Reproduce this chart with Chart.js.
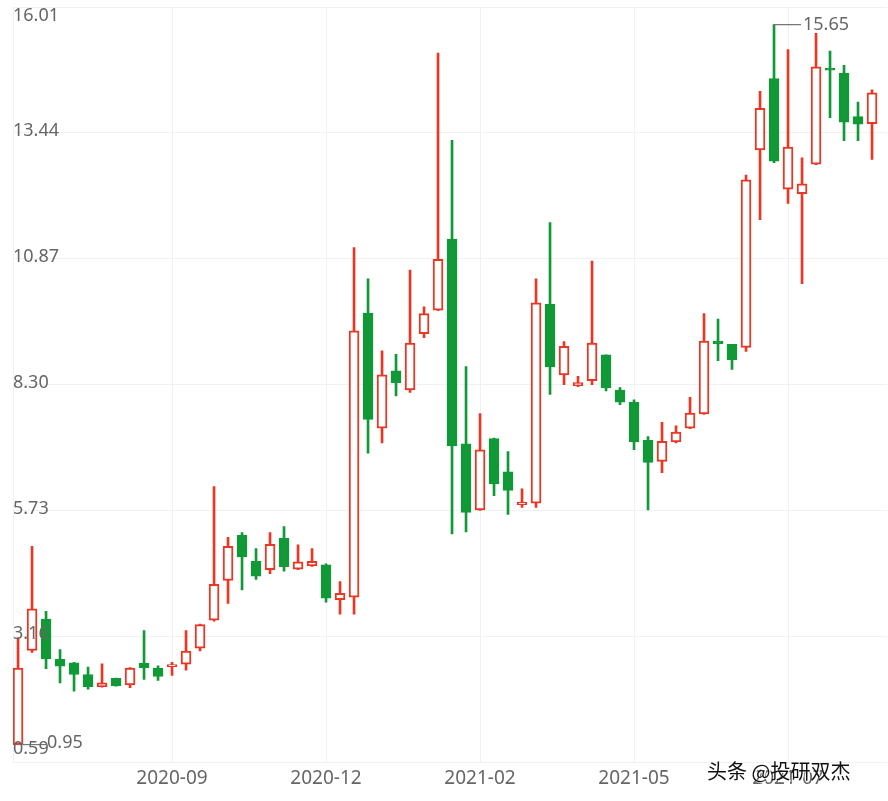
<!DOCTYPE html>
<html lang="zh">
<head>
  <meta charset="UTF-8">
  <title>K线图</title>
  <script src="https://cdn.jsdelivr.net/npm/chart.js"></script>
  <style>
    body { margin: 0; background: #fff; }
    #wrap { width: 888px; height: 801px; }
  </style>
</head>
<body>
  <div id="wrap"><canvas id="kChart" width="888" height="801"></canvas></div>

  <script>
    // weekly candles
    const opens  = [0.95, 2.87, 3.51, 2.69, 2.62, 2.38, 2.13, 2.30, 2.17, 2.61, 2.51, 2.54, 2.59, 2.92, 3.49, 4.30,
                    5.22, 4.69, 4.52, 5.16, 4.53, 4.60, 4.62, 3.91, 3.96, 9.76, 7.41, 8.58, 8.19, 9.34, 9.82, 11.27,
                    7.09, 5.74, 7.20, 6.52, 5.85, 5.88, 9.94, 8.50, 8.28, 8.38, 8.91, 8.19, 7.94, 7.16, 6.73, 7.13,
                    7.41, 7.70, 9.19, 9.12, 9.06, 13.09, 14.55, 12.29, 12.20, 12.80, 14.76, 14.66, 13.77, 13.63];
    const closes = [2.51, 3.72, 2.70, 2.55, 2.38, 2.13, 2.21, 2.15, 2.51, 2.52, 2.34, 2.57, 2.86, 3.40, 4.22, 5.00,
                    4.78, 4.39, 5.04, 4.58, 4.68, 4.69, 3.94, 4.04, 9.40, 7.59, 8.50, 8.34, 9.15, 9.75, 10.86, 7.05,
                    5.69, 6.97, 6.27, 6.14, 5.90, 9.97, 8.66, 9.08, 8.34, 9.15, 8.23, 7.94, 7.13, 6.71, 7.14, 7.33,
                    7.72, 9.19, 9.13, 8.81, 12.48, 13.94, 12.86, 13.15, 12.40, 14.79, 14.72, 13.66, 13.62, 14.26];
    const highs  = [3.13, 5.00, 3.67, 2.89, 2.63, 2.53, 2.60, 2.31, 2.52, 3.28, 2.56, 2.63, 3.28, 3.41, 6.22, 5.18,
                    5.28, 4.95, 5.28, 5.40, 5.03, 4.95, 4.64, 4.28, 11.10, 10.46, 8.99, 8.92, 10.64, 9.89, 15.07, 13.29,
                    8.67, 7.71, 7.21, 6.93, 6.17, 10.46, 11.61, 9.18, 8.47, 10.82, 8.91, 8.24, 7.99, 7.24, 7.53, 7.46,
                    8.04, 9.75, 9.64, 9.12, 12.58, 14.29, 15.65, 15.14, 12.93, 15.47, 15.11, 14.82, 14.07, 14.32];
    const lows   = [0.95, 2.83, 2.50, 2.21, 2.04, 2.08, 2.12, 2.14, 2.11, 2.28, 2.26, 2.36, 2.47, 2.86, 3.47, 3.83,
                    4.11, 4.32, 4.44, 4.49, 4.52, 4.59, 3.86, 3.61, 3.61, 6.90, 7.11, 8.07, 8.14, 9.26, 9.81, 5.25,
                    5.29, 5.73, 6.03, 5.65, 5.79, 5.79, 8.10, 8.30, 8.26, 8.30, 8.17, 7.89, 6.97, 5.74, 6.50, 7.11,
                    7.40, 7.69, 8.79, 8.61, 8.98, 11.67, 12.83, 12.00, 10.36, 12.79, 13.75, 13.28, 13.28, 12.90];

    const xTickIdx    = [11, 22, 33, 44, 55];
    const xTickLabels = ['2020-09', '2020-12', '2021-02', '2021-05', '2021-07'];
    const yTicks      = [0.59, 3.16, 5.73, 8.30, 10.87, 13.44, 16.01];

    const RED = 'rgb(230,56,36)';
    const GREEN = 'rgb(17,152,55)';
    const TXT = '#666';
    const GRID = '#f1f1f1';

    const up = opens.map((o, i) => closes[i] >= o);

    const wickData = highs.map((h, i) => ({ x: i, y: [lows[i], h] }));
    const bodyData = opens.map((o, i) => ({ x: i, y: [Math.min(o, closes[i]), Math.max(o, closes[i])] }));

    // y labels sit inside the plot, top one pushed down, bottom one pushed up
    const yLabelPlugin = {
      id: 'yLabels',
      afterDraw(chart) {
        const { ctx, scales: { y } } = chart;
        ctx.save();
        ctx.font = '18px "Noto Sans", sans-serif';
        ctx.fillStyle = TXT;
        ctx.textAlign = 'left';
        ctx.textBaseline = 'middle';
        yTicks.forEach((v, i) => {
          let py = y.getPixelForValue(v);
          if (i === yTicks.length - 1) py += 9;
          else if (i === 0) py -= 13;
          else py -= 2;
          ctx.fillText(v.toFixed(2), 13, py);
        });
        ctx.restore();
      }
    };

    // max / min markers
    const markPlugin = {
      id: 'marks',
      afterDatasetsDraw(chart) {
        const { ctx, scales: { x, y } } = chart;
        const maxI = highs.indexOf(Math.max(...highs));
        const minI = lows.indexOf(Math.min(...lows));
        ctx.save();
        ctx.strokeStyle = '#777';
        ctx.lineWidth = 1.2;
        ctx.font = '18px "Noto Sans", sans-serif';
        ctx.fillStyle = TXT;
        ctx.textBaseline = 'middle';
        ctx.textAlign = 'left';

        let px = x.getPixelForValue(maxI), py = y.getPixelForValue(highs[maxI]);
        ctx.beginPath();
        ctx.moveTo(px, py + 1);
        ctx.lineTo(px, py);
        ctx.lineTo(px + 27, py);
        ctx.stroke();
        ctx.fillText(highs[maxI].toFixed(2), px + 29, py);

        px = x.getPixelForValue(minI); py = y.getPixelForValue(lows[minI]);
        ctx.beginPath();
        ctx.moveTo(px, py);
        ctx.lineTo(px + 28, py);
        ctx.stroke();
        ctx.fillText(lows[minI].toFixed(2), px + 29, py - 2);
        ctx.restore();
      }
    };

    const watermarkPlugin = {
      id: 'watermark',
      afterDraw(chart) {
        const ctx = chart.ctx;
        ctx.save();
        ctx.font = '20px "Noto Sans CJK SC", sans-serif';
        ctx.textAlign = 'left';
        ctx.textBaseline = 'middle';
        ctx.fillStyle = 'rgba(255,255,255,0.9)';
        ctx.fillText('头条 @投研双杰', 708.5, 772.5);
        ctx.fillStyle = '#111';
        ctx.fillText('头条 @投研双杰', 707, 771);
        ctx.restore();
      }
    };

    new Chart(document.getElementById('kChart'), {
      type: 'bar',
      data: {
        datasets: [
          {
            label: 'body',
            data: bodyData,
            order: 1,
            grouped: false,
            barThickness: 10,
            minBarLength: 2,
            borderWidth: 2,
            borderSkipped: false,
            borderColor: up.map(u => u ? RED : GREEN),
            backgroundColor: up.map(u => u ? '#ffffff' : GREEN)
          },
          {
            label: 'wick',
            data: wickData,
            order: 2,
            grouped: false,
            barThickness: 2,
            borderWidth: 0,
            backgroundColor: up.map(u => u ? RED : GREEN)
          }
        ]
      },
      options: {
        responsive: false,
        animation: false,
        layout: { padding: { left: 13, top: 7, right: 1, bottom: 6 } },
        plugins: { legend: { display: false }, tooltip: { enabled: false } },
        scales: {
          x: {
            type: 'linear',
            offset: false,
            min: -0.36,
            max: 62.07,
            afterBuildTicks: s => { s.ticks = xTickIdx.map(v => ({ value: v })); },
            ticks: {
              color: TXT,
              font: { family: '"Noto Sans", sans-serif', size: 19 },
              padding: 5,
              maxRotation: 0,
              autoSkip: false,
              callback: v => xTickLabels[xTickIdx.indexOf(v)] ?? ''
            },
            grid: { color: GRID, drawTicks: false, offset: false },
            border: { display: false }
          },
          y: {
            min: yTicks[0],
            max: yTicks[yTicks.length - 1],
            afterBuildTicks: s => { s.ticks = yTicks.map(v => ({ value: v })); },
            ticks: { display: false },
            grid: { color: GRID, drawTicks: false },
            border: { display: true, color: GRID }
          }
        }
      },
      plugins: [markPlugin, yLabelPlugin, watermarkPlugin]
    });
  </script>
</body>
</html>
